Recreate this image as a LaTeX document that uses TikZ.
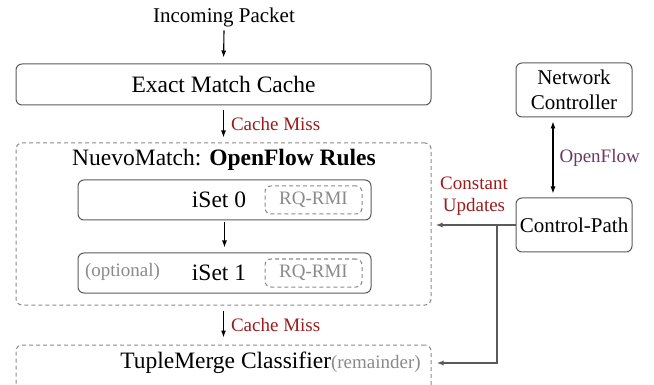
\documentclass[tikz,border=0pt]{standalone}
\usepackage{fontspec}
\setmainfont{Liberation Serif}
\usetikzlibrary{arrows.meta,calc}
\definecolor{missred}{HTML}{9A1C1C}
\definecolor{ofpurple}{HTML}{6B3A62}
\definecolor{notegray}{HTML}{8A8A8A}
\definecolor{edgegray}{HTML}{5A5A5A}

\begin{document}
\begin{tikzpicture}[x=1pt,y=-1pt,line width=1pt,
  box/.style={draw=edgegray,rounded corners=6pt,inner sep=0pt},
  dbox/.style={draw=notegray,rounded corners=6pt,inner sep=0pt,dash pattern=on 4pt off 3pt},
  big/.style={font=\fontsize{23.5}{26}\selectfont},
  mid/.style={font=\fontsize{21}{25}\selectfont,align=center},
  note/.style={font=\fontsize{19}{22}\selectfont,text=notegray},
  miss/.style={font=\fontsize{19}{22}\selectfont,text=missred,inner sep=7pt},
  flow/.style={-{Latex[length=7pt,width=5pt]},line width=1.1pt},
  upd/.style={-{Latex[length=7pt,width=5pt]},line width=1.4pt,draw=edgegray}]
\clip (0,0) rectangle (654,385);
% data path
\node[mid] (inc) at (224,17) {Incoming Packet};
\node[box,big,minimum width=415pt,minimum height=41pt] (emc) at (223.5,84.5) {Exact Match Cache};
\node[dbox,minimum width=415pt,minimum height=162pt] (nuevo) at (223.5,224) {};
\node[big] (title) at (224,160) {NuevoMatch: \textbf{OpenFlow Rules}};
\node[box,minimum width=293pt,minimum height=40pt] (iset0) at (224.5,200) {};
\node[big] (iset0txt) at (219,200) {iSet 0};
\node[dbox,note,minimum width=97pt,minimum height=28pt] (rq0) at (313.5,200) {RQ-RMI};
\node[box,minimum width=293pt,minimum height=40pt] (iset1) at (224.5,273) {};
\node[note] (opt) at (122.5,272) {(optional)};
\node[big] (iset1txt) at (219,273) {iSet 1};
\node[dbox,note,minimum width=97pt,minimum height=28pt] (rq1) at (313.5,273) {RQ-RMI};
\node[dbox,minimum width=415pt,minimum height=60pt] (tm) at (223.5,375) {};
\node[big,inner sep=0pt] (tmtxt) at (270.5,363) {TupleMerge Classifier{\fontsize{19}{22}\selectfont\color{notegray}(remainder)}};
\draw[flow,shorten >=6pt] (inc.south) -- (emc.north);
\draw[flow,shorten <=5pt,shorten >=5pt] (emc.south) -- node[right,miss] {Cache Miss} (nuevo.north);
\draw[flow,shorten <=2pt,shorten >=5pt] (iset0.south) -- (iset1.north);
\draw[flow,shorten <=5pt,shorten >=7pt] (nuevo.south) -- node[right,miss] {Cache Miss} (tm.north);
% control path
\node[box,mid,minimum width=116pt,minimum height=54pt] (nc) at (574,90) {Network\\Controller};
\node[box,mid,minimum width=116pt,minimum height=54pt] (cp) at (574,225) {Control-Path};
\draw[{Latex[length=7pt,width=5pt]}-{Latex[length=7pt,width=5pt]},line width=1.1pt,shorten <=4pt,shorten >=4pt]
  ([xshift=-21pt]nc.south) -- node[right,font=\fontsize{19}{22}\selectfont,text=ofpurple,inner sep=6pt] {OpenFlow} ([xshift=-21pt]cp.north);
\node[miss,align=center,inner sep=0pt,font=\fontsize{19}{22}\selectfont] (constupd) at (474,196) {Constant\\Updates};
\coordinate (split) at (497,225);
\draw[upd,shorten >=4pt] (cp.west) -- (cp.west -| nuevo.east);
\draw[upd] (split) |- ($(tmtxt -| tm.east)+(5,0)$);
\end{tikzpicture}
\end{document}
